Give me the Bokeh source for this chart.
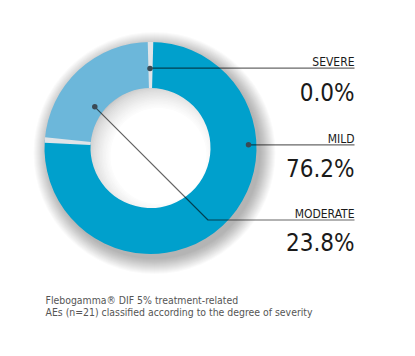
import math
from bokeh.plotting import figure
from bokeh.models import Range1d, ColumnDataSource
from bokeh.core.properties import value
from bokeh.embed import file_html
from bokeh.resources import INLINE

# ---- data ----
categories = ["SEVERE", "MILD", "MODERATE"]
percents = [0.0, 76.2, 23.8]
pct_labels = ["0.0%", "76.2%", "23.8%"]
slice_colors = ["#dfe4e8", "#00a0cc", "#6cb7da"]
caption_lines = ["Flebogamma\u00ae DIF 5% treatment-related",
                 "AEs (n=21) classified according to the degree of severity"]

W, H = 415, 356
FONT = "'Liberation Sans Narrow', 'DejaVu Sans Condensed', sans-serif"

p = figure(width=W, height=H, x_range=Range1d(0, W), y_range=Range1d(0, H),
           output_backend="svg", toolbar_location=None, min_border=0)
p.axis.visible = False
p.grid.visible = False
p.outline_line_color = None
p.background_fill_color = "white"
p.border_fill_color = "white"


def Y(yp):
    return H - yp


cx, cy = 150.0, Y(147.5)
R_OUT, R_IN = 106.0, 60.0

# ---- soft outer shadow ----
n_sh = 16
for i in range(n_sh):
    r = R_OUT + 15 - i
    p.circle(x=[cx + 4], y=[cy - 5], radius=r, fill_color="black",
             fill_alpha=0.02, line_color=None)

# ---- inner hole shading ----
p.circle(x=[cx], y=[cy], radius=R_IN + 2, fill_color="#c4c4c4", line_color=None)
n_in = 16
for i in range(n_in):
    t = (i + 1) / n_in
    r = 72 - 24 * t
    g = int(196 + (255 - 196) * min(1.0, t ** 0.6))
    p.circle(x=[cx + 8], y=[cy - 8], radius=r, fill_color="#%02x%02x%02x" % (g, g, g),
             line_color=None)

# ---- donut slices ----
start = math.pi / 2
acc = 0.0
a0s, a1s, cols, bounds = [], [], [], []
for cat, v, c in zip(categories, percents, slice_colors):
    a0 = start - acc / 100 * 2 * math.pi
    bounds.append(a0)
    acc += v
    a1 = start - acc / 100 * 2 * math.pi
    if v > 0:
        a0s.append(a0)
        a1s.append(a1)
        cols.append(c)
src = ColumnDataSource(dict(x=[cx] * len(a0s), y=[cy] * len(a0s), a0=a0s, a1=a1s, c=cols))
p.annular_wedge(x="x", y="y", inner_radius=R_IN, outer_radius=R_OUT,
                start_angle="a0", end_angle="a1", direction="clock",
                fill_color="c", line_color=None, source=src)

# separators (severe = 0 %, shown as thin grey gap)
bset = sorted(set(round(b, 6) for b in bounds))
half = math.radians(1.5)
p.annular_wedge(x=[cx] * len(bset), y=[cy] * len(bset), inner_radius=R_IN, outer_radius=R_OUT,
                start_angle=[b - half for b in bset], end_angle=[b + half for b in bset],
                fill_color=slice_colors[0], line_color=None)

# ---- leader lines ----
LX = 354
dots = [(149.5, 68.0), (248.0, 144.3), (94.3, 106.3)]
line_y = [67.7, 144.3, 219.5]
xs = [[dots[0][0], LX], [dots[1][0], LX], [dots[2][0], 207.5, LX]]
ys = [[Y(line_y[0]), Y(line_y[0])], [Y(line_y[1]), Y(line_y[1])],
      [Y(dots[2][1]), Y(line_y[2]), Y(line_y[2])]]
p.multi_line(xs=xs, ys=ys, line_color="black", line_alpha=0.6, line_width=1.2)
p.scatter(x=[d[0] for d in dots], y=[Y(d[1]) for d in dots], size=5.5,
          fill_color="#3a4a55", line_color=None)

# ---- labels ----
cat_base = [61.0, 138.0, 213.5]
val_base = [92.0, 168.0, 242.5]
p.text(x=[LX] * 3, y=[Y(b) for b in cat_base], text=categories, text_align="right",
       text_baseline="alphabetic", text_font=value(FONT), text_font_size="12px",
       text_color="#1a1a1a")
p.text(x=[LX] * 3, y=[Y(b) for b in val_base], text=pct_labels, text_align="right",
       text_baseline="alphabetic", text_font=value(FONT), text_font_size="24px",
       text_color="#1a1a1a")

# ---- caption ----
p.text(x=[45, 45], y=[Y(299), Y(311)], text=caption_lines, text_align="left",
       text_baseline="alphabetic", text_font=value(FONT), text_font_size="10.4px",
       text_color="#555555")

open("out.html", "w").write(file_html(p, INLINE))
